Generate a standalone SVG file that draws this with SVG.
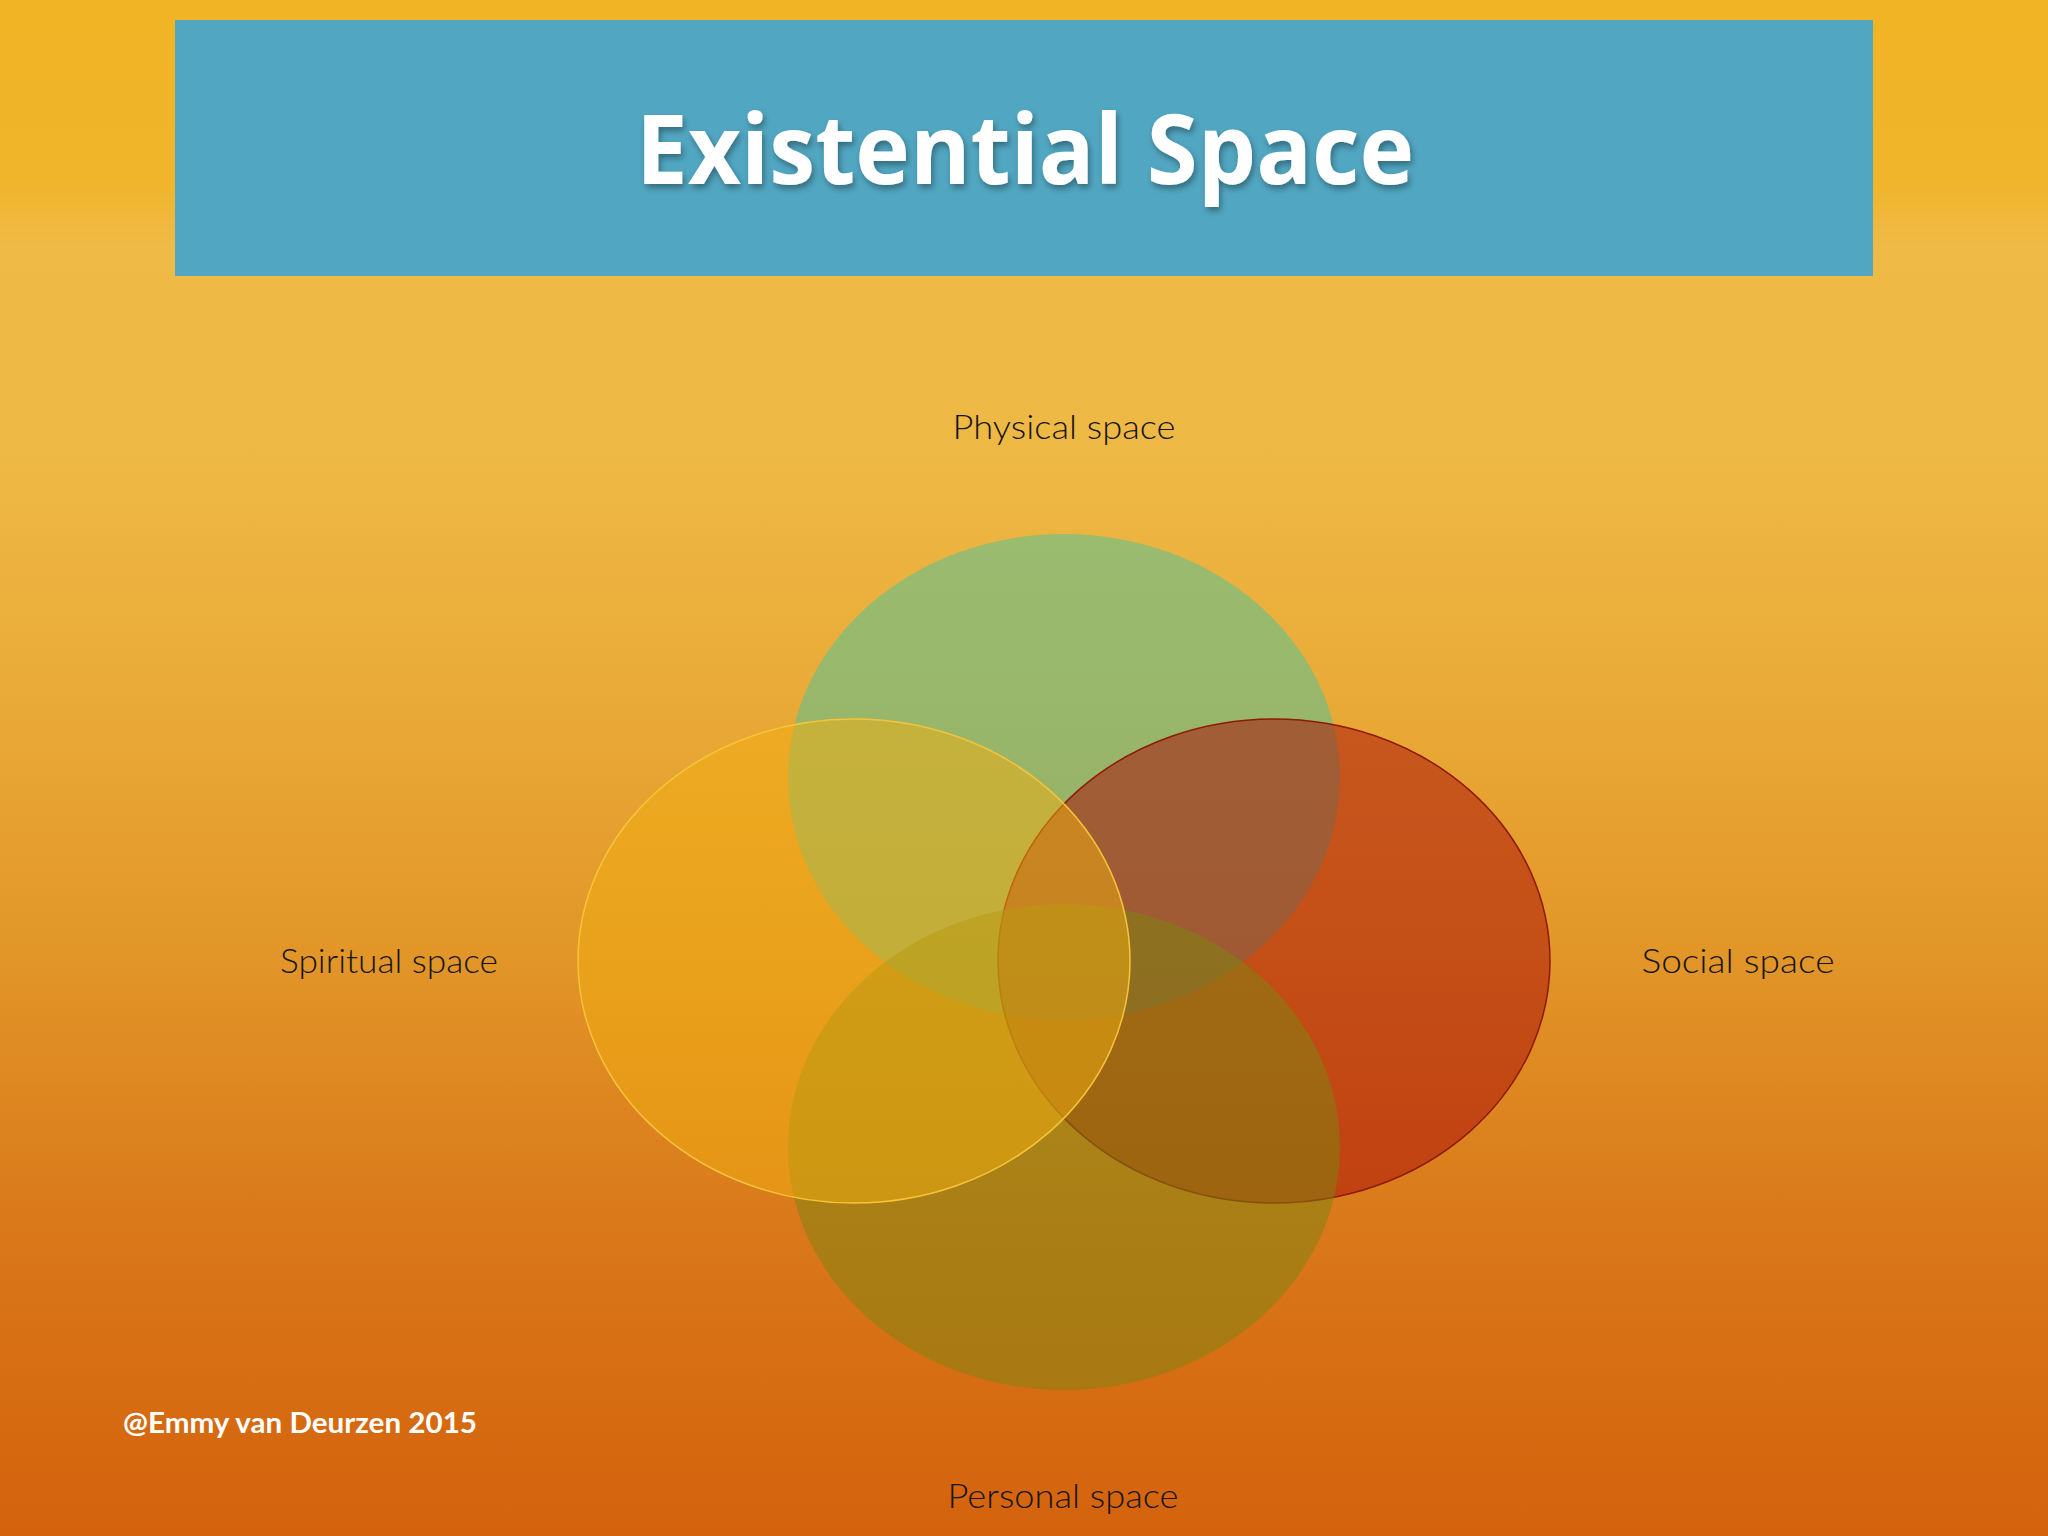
<svg xmlns="http://www.w3.org/2000/svg" width="2048" height="1536" viewBox="0 0 2048 1536">
  <defs>
    <linearGradient id="bg" x1="0" y1="0" x2="0" y2="1">
      <stop offset="0" stop-color="#F1B424"/>
      <stop offset="0.12" stop-color="#F1B52C"/>
      <stop offset="0.16" stop-color="#EFBA46"/>
      <stop offset="0.3" stop-color="#EEB844"/>
      <stop offset="0.45" stop-color="#EAAB38"/>
      <stop offset="0.62" stop-color="#E29628"/>
      <stop offset="0.8" stop-color="#D9781A"/>
      <stop offset="1" stop-color="#D4620C"/>
    </linearGradient>
    <filter id="shadow" x="-10%" y="-20%" width="120%" height="150%">
      <feGaussianBlur in="SourceAlpha" stdDeviation="3"/>
      <feOffset dx="2" dy="4" result="o"/>
      <feComponentTransfer><feFuncA type="linear" slope="0.35"/></feComponentTransfer>
      <feMerge><feMergeNode/><feMergeNode in="SourceGraphic"/></feMerge>
    </filter>
    <style>
      .lbl { font-family: Lato, "Open Sans", sans-serif; font-weight: 300; font-size: 33px; fill: #141414; text-anchor: middle; }
      .venn { fill-opacity: 0.52; }
    </style>
  </defs>

  <rect x="0" y="0" width="2048" height="1536" fill="url(#bg)"/>

  <g id="title">
    <rect x="175" y="20" width="1698" height="256" fill="#51A6C1"/>
    <text x="1025" y="184" font-family="'Open Sans', 'Liberation Sans', sans-serif" font-weight="700" font-size="97" fill="#ffffff" text-anchor="middle" textLength="778" lengthAdjust="spacingAndGlyphs" filter="url(#shadow)">Existential Space</text>
  </g>

  <g id="venn">
    <g id="physical">
      <ellipse class="venn" cx="1064" cy="777" rx="276" ry="243" fill="#4FC49C"/>
    </g>
    <g id="social">
      <ellipse class="venn" cx="1274" cy="961" rx="276" ry="242" fill="#A80E08" stroke="#8E1A06" stroke-width="1.5"/>
    </g>
    <g id="personal">
      <ellipse class="venn" cx="1064" cy="1147" rx="276" ry="243" fill="#7E8412"/>
    </g>
    <g id="spiritual">
      <ellipse class="venn" cx="854" cy="961" rx="276" ry="242" fill="#F2AE10" stroke="#F6C43A" stroke-width="1.5" style="fill-opacity:0.5"/>
    </g>
  </g>

  <g id="labels">
    <text class="lbl" x="1064" y="439" textLength="223" lengthAdjust="spacingAndGlyphs">Physical space</text>
    <text class="lbl" x="389" y="973" textLength="218" lengthAdjust="spacingAndGlyphs">Spiritual space</text>
    <text class="lbl" x="1738" y="973" textLength="193" lengthAdjust="spacingAndGlyphs">Social space</text>
    <text class="lbl" x="1063" y="1508" textLength="231" lengthAdjust="spacingAndGlyphs">Personal space</text>
  </g>

  <g id="credit">
    <text x="123" y="1433" font-family="Lato, 'Open Sans', sans-serif" font-weight="700" font-size="28" fill="#ffffff" textLength="354" lengthAdjust="spacingAndGlyphs">@Emmy van Deurzen 2015</text>
  </g>
</svg>
